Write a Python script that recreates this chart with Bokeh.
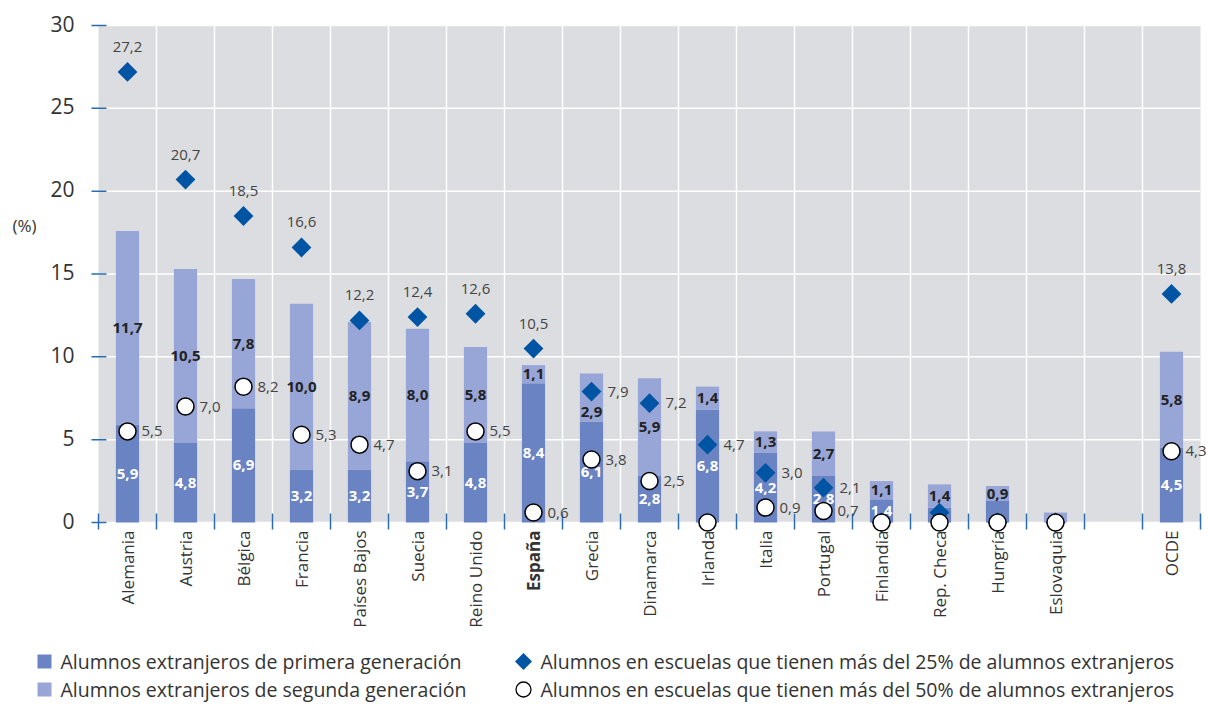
import math
from bokeh.plotting import figure
from bokeh.models import ColumnDataSource, Range1d
from bokeh.embed import file_html
from bokeh.resources import INLINE
from bokeh.core.properties import value

# ---------------- data ----------------
countries = ["Alemania", "Austria", "Bélgica", "Francia", "Países Bajos", "Suecia",
             "Reino Unido", "España", "Grecia", "Dinamarca", "Irlanda", "Italia",
             "Portugal", "Finlandia", "Rep. Checa", "Hungría", "Eslovaquia", "OCDE"]
first_gen = [5.9, 4.8, 6.9, 3.2, 3.2, 3.7, 4.8, 8.4, 6.1, 2.8, 6.8, 4.2, 2.8, 1.4, 0.9, 1.3, 0.0, 4.5]
second_gen = [11.7, 10.5, 7.8, 10.0, 8.9, 8.0, 5.8, 1.1, 2.9, 5.9, 1.4, 1.3, 2.7, 1.1, 1.4, 0.9, 0.6, 5.8]
over25 = [27.2, 20.7, 18.5, 16.6, 12.2, 12.4, 12.6, 10.5, 7.9, 7.2, 4.7, 3.0, 2.1, 0.0, 0.6, 0.0, 0.0, 13.8]
over50 = [5.5, 7.0, 8.2, 5.3, 4.7, 3.1, 5.5, 0.6, 3.8, 2.5, 0.0, 0.9, 0.7, 0.0, 0.0, 0.0, 0.0, 4.3]
first_gen_labelled = [True] * 14 + [False, False, False, True]
second_gen_labelled = [True] * 16 + [False, True]
y_ticks = [0, 5, 10, 15, 20, 25, 30]
highlight = "España"
y_unit_label = "(%)"

legend_labels = ["Alumnos extranjeros de primera generación",
                 "Alumnos extranjeros de segunda generación",
                 "Alumnos en escuelas que tienen más del 25% de alumnos extranjeros",
                 "Alumnos en escuelas que tienen más del 50% de alumnos extranjeros"]

# ---------------- styling / layout ----------------
FONT = "Open Sans"
DARK = "#6a83c2"
LIGHT = "#97a6d6"
DIAMOND = "#0054a4"
BG = "#dcdde0"
TICK = "#2b6cb0"
TXT = "#333333"
LBL = "#444444"

W, H = 1208, 704
PLOT_LEFT, PLOT_TOP, PLOT_BOTTOM = 98, 25, 522   # pixel edges of the grey panel
SLOT = 58.0                                        # px per category slot
Y_MAX = 30
UNIT = (PLOT_BOTTOM - PLOT_TOP) / Y_MAX            # px per percentage point


def fmt(v):
    return f"{v:.1f}".replace(".", ",")


n = len(countries)
xs = [i if i < n - 1 else i + 1 for i in range(n)]   # empty slot before OCDE
n_slots = n + 1
x_lo, x_hi = -0.5, n_slots - 0.5
totals = [a + b for a, b in zip(first_gen, second_gen)]

# full-canvas frame; data <-> pixel mapping
x_start = x_lo - PLOT_LEFT / SLOT
y_top = Y_MAX + PLOT_TOP / UNIT


def px_x(px):
    return x_start + px / SLOT


def px_y(py):
    return y_top - py / UNIT


p = figure(width=W, height=H, x_range=Range1d(x_start, x_start + W / SLOT),
           y_range=Range1d(y_top - H / UNIT, y_top),
           output_backend="svg", toolbar_location=None,
           x_axis_location=None, y_axis_location=None,
           min_border=0, min_border_left=0, min_border_right=0, min_border_top=0, min_border_bottom=0)
p.grid.visible = False
p.outline_line_color = None
p.background_fill_color = "white"
p.border_fill_color = "white"

# grey panel
p.quad(left=[x_lo], right=[x_hi], bottom=[0], top=[Y_MAX], fill_color=BG, line_color=None)

# grid lines
bounds = [k - 0.5 for k in range(n_slots + 1)]
inner = bounds[1:-1]
p.segment(x0=inner, x1=inner, y0=[0] * len(inner), y1=[Y_MAX] * len(inner),
          line_color="white", line_width=1.5)
p.segment(x0=[x_lo] * len(y_ticks), x1=[x_hi] * len(y_ticks), y0=y_ticks, y1=y_ticks,
          line_color="white", line_width=1.5)

# second-generation label sits below a labelled diamond when they would collide
mid2 = []
for a, b, d in zip(first_gen, second_gen, over25):
    m = a + b / 2
    if d >= 1.0 and abs(d - m) < 0.9:
        m = d - 1.25
    mid2.append(m)

src = ColumnDataSource(dict(
    x=xs, first=first_gen, total=totals,
    mid1=[a / 2 for a in first_gen],
    mid2=mid2,
    lab1=[fmt(a) if s else "" for a, s in zip(first_gen, first_gen_labelled)],
    lab2=[fmt(b) if s else "" for b, s in zip(second_gen, second_gen_labelled)],
    d=over25, c=over50,
))
p.vbar(x="x", bottom=0, top="first", width=0.4, fill_color=DARK, line_color=None, source=src)
p.vbar(x="x", bottom="first", top="total", width=0.4, fill_color=LIGHT, line_color=None, source=src)

# axis ticks (y: left edge, x: slot boundaries)
p.segment(x0=[x_lo - 7 / SLOT] * len(y_ticks), x1=[x_lo + 8 / SLOT] * len(y_ticks),
          y0=y_ticks, y1=y_ticks, line_color=TICK, line_width=1.5)
p.segment(x0=bounds, x1=bounds, y0=[-7 / UNIT] * len(bounds), y1=[9 / UNIT] * len(bounds),
          line_color=TICK, line_width=1.5)

# y tick labels
p.text(x=[x_lo] * len(y_ticks), y=y_ticks, text=[str(t) for t in y_ticks], x_offset=-24, y_offset=-2,
       text_align="right", text_baseline="middle", text_font=value(FONT),
       text_font_size="21px", text_color=TXT)
p.text(x=[px_x(12)], y=[px_y(225)], text=[y_unit_label], text_align="left", text_baseline="middle",
       text_font=value(FONT), text_font_size="17px", text_color=TXT)

# bar value labels
p.text(x="x", y="mid1", text="lab1", source=src, text_align="center", text_baseline="middle",
       text_font=value(FONT), text_font_size="15px", text_font_style="bold", text_color="white")
p.text(x="x", y="mid2", text="lab2", source=src, text_align="center", text_baseline="middle",
       text_font=value(FONT), text_font_size="15px", text_font_style="bold", text_color="#222222")

# markers
p.scatter(x="x", y="d", source=src, marker="square", angle=math.pi / 4, size=14,
          fill_color=DIAMOND, line_color=None)
p.scatter(x="x", y="c", source=src, marker="circle", size=17,
          fill_color="white", line_color="black", line_width=1.5)

# marker value labels
above_x, above_y, above_t, right_x, right_y, right_t = [], [], [], [], [], []
for x, d, t in zip(xs, over25, totals):
    if d < 1.0:
        continue
    if d > t:
        above_x.append(x); above_y.append(d); above_t.append(fmt(d))
    else:
        right_x.append(x); right_y.append(d); right_t.append(fmt(d))
p.text(x=above_x, y=above_y, text=above_t, y_offset=-25, text_align="center", text_baseline="middle",
       text_font=value(FONT), text_font_size="15px", text_color=LBL)
p.text(x=right_x, y=right_y, text=right_t, x_offset=16, text_align="left", text_baseline="middle",
       text_font=value(FONT), text_font_size="15px", text_color=LBL)

cx = [x for x, c in zip(xs, over50) if c > 0]
cy = [c for c in over50 if c > 0]
ct = [fmt(c) for c in over50 if c > 0]
p.text(x=cx, y=cy, text=ct, x_offset=14, text_align="left", text_baseline="middle",
       text_font=value(FONT), text_font_size="15px", text_color=LBL)

# category labels, rotated
normal = [(x, c) for x, c in zip(xs, countries) if c != highlight]
bold = [(x, c) for x, c in zip(xs, countries) if c == highlight]
for items, style in ((normal, "normal"), (bold, "bold")):
    p.text(x=[x for x, _ in items], y=[px_y(530)] * len(items), text=[c for _, c in items],
           angle=math.pi / 2, text_align="right", text_baseline="middle",
           text_font=value(FONT), text_font_size="17px", text_font_style=style, text_color=TXT)

# legend (drawn at fixed pixel positions)
row1, row2 = px_y(661), px_y(689)
p.scatter(x=[px_x(44)] * 2, y=[row1, row2], marker="square", size=14,
          fill_color=[DARK, LIGHT], line_color=None)
p.scatter(x=[px_x(523)], y=[row1], marker="square", angle=math.pi / 4, size=12,
          fill_color=DIAMOND, line_color=None)
p.scatter(x=[px_x(523)], y=[row2], marker="circle", size=15,
          fill_color="white", line_color="black", line_width=1.3)
p.text(x=[px_x(60)] * 2 + [px_x(540)] * 2, y=[row1, row2, row1, row2],
       text=[legend_labels[0], legend_labels[1], legend_labels[2], legend_labels[3]],
       text_align="left", text_baseline="middle", text_font=value(FONT),
       text_font_size="19.5px", text_color=TXT)

open("out.html", "w").write(file_html(p, INLINE))
